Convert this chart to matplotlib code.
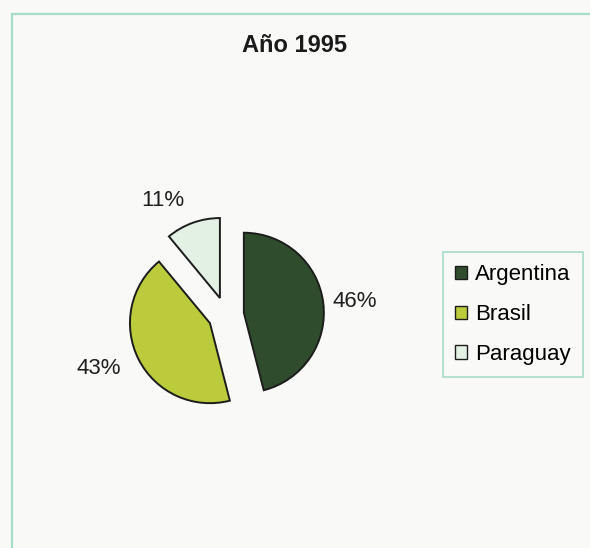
import matplotlib
matplotlib.use("Agg")
import matplotlib.pyplot as plt
from matplotlib.lines import Line2D
from matplotlib.patches import Patch
import numpy as np

# ---- data ----
title = "Año 1995"
countries = ["Argentina", "Brasil", "Paraguay"]
shares = [46, 43, 11]
pct_labels = ["46%", "43%", "11%"]

# ---- styles ----
colors = ["#2f4d2c", "#bccb3c", "#e3f1e5"]
explode = [0.225, 0.225, 0.225]
label_dist = [1.12, 1.25, 1.30]
font = ["Liberation Sans", "DejaVu Sans"]

fig = plt.figure(figsize=(5.90, 5.48), dpi=100, facecolor="#f9f9f8")

# frame lines of the chart area (scan)
fig.add_artist(Line2D([12 / 590, 12 / 590], [0, 1 - 14 / 548], transform=fig.transFigure,
                      color="#a8dcca", lw=1.6))
fig.add_artist(Line2D([12 / 590, 1], [1 - 14 / 548, 1 - 14 / 548], transform=fig.transFigure,
                      color="#a8dcca", lw=1.6))

fig.text(295 / 590, 1 - 46 / 548, title, ha="center", va="center",
         fontsize=17, fontweight="bold", family=font, color="#1a1a1a")

ax = fig.add_axes([66 / 590, 73 / 548, 320 / 590, 320 / 548])
ax.set_facecolor("none")
wedges, texts = ax.pie(shares, colors=colors, explode=explode, startangle=90,
                       counterclock=False, labels=pct_labels, labeldistance=1.3,
                       wedgeprops=dict(edgecolor="#1c1c1c", linewidth=1.4),
                       textprops=dict(fontsize=16, family=font, color="#1f1f1f"))
for w, t, ex, d in zip(wedges, texts, explode, label_dist):
    ang = np.deg2rad((w.theta1 + w.theta2) / 2)
    t.set_position(((ex + d) * np.cos(ang), (ex + d) * np.sin(ang)))
ax.set_xlim(-2, 2)
ax.set_ylim(-2, 2)
ax.set_aspect("equal")
ax.axis("off")

handles = [Patch(facecolor=c, edgecolor="#1c1c1c", linewidth=1.0) for c in colors]
leg = fig.legend(handles, countries, loc="upper left",
                 bbox_to_anchor=(443 / 590, 1 - 252 / 548),
                 prop=dict(family=font, size=16), frameon=True, fancybox=False,
                 edgecolor="#a8dcca", facecolor="#f9f9f8", framealpha=1,
                 handlelength=0.55, handleheight=0.55, handletextpad=0.35,
                 labelspacing=0.85, borderpad=0.55, borderaxespad=0)
leg.get_frame().set_linewidth(1.2)

fig.savefig("out.png", dpi=100, facecolor=fig.get_facecolor())
